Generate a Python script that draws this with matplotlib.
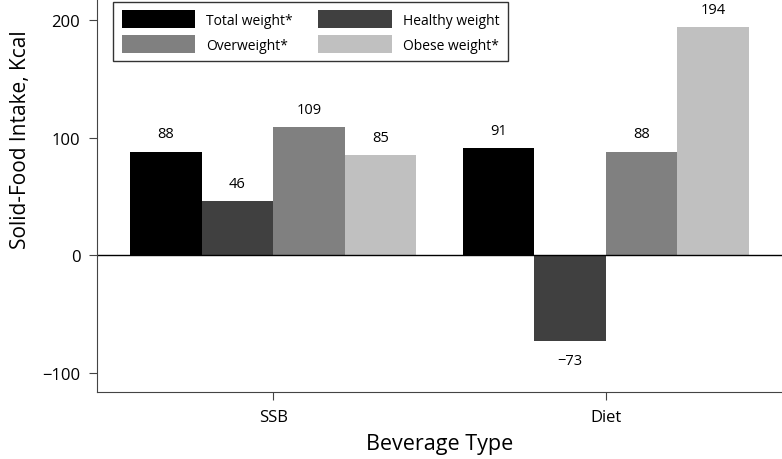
import matplotlib.pyplot as plt
import numpy as np

plt.rcParams['font.family'] = ['Open Sans', 'DejaVu Sans']

beverages = ["SSB", "Diet"]
groups = ["Total weight*", "Healthy weight", "Overweight*", "Obese weight*"]
values = {
    "Total weight*": [88, 91],
    "Healthy weight": [46, -73],
    "Overweight*": [109, 88],
    "Obese weight*": [85, 194],
}
colors = ["#000000", "#404040", "#808080", "#c0c0c0"]

fig = plt.figure(figsize=(7.82, 4.6), dpi=100)
ax = fig.add_axes([0.124, 0.146, 0.876, 0.854])

x = np.arange(len(beverages))
w = 0.215
bars = []
for i, g in enumerate(groups):
    pos = x + (i - 1.5) * w
    b = ax.bar(pos, values[g], width=w, color=colors[i], label=g)
    bars.append(b)
    for px, v in zip(pos, values[g]):
        off = 9 if v >= 0 else -10
        va = 'bottom' if v >= 0 else 'top'
        ax.text(px, v + off, str(v).replace('-', '\u2212'), ha='center',
                va=va, fontsize=10.5)

ax.axhline(0, color='black', lw=1)
ax.set_xlim(-0.53, 1.53)
ax.set_ylim(-116, 218)
ax.set_yticks([-100, 0, 100, 200])
ax.set_yticklabels(['\u2212100', '0', '100', '200'])
ax.set_xticks(x)
ax.set_xticklabels(beverages)
ax.tick_params(labelsize=12, length=5.5, pad=6.5, color='#444444')
ax.spines['top'].set_visible(False)
ax.spines['right'].set_visible(False)
ax.spines['left'].set_color('#444444')
ax.spines['bottom'].set_color('#444444')
ax.set_xlabel("Beverage Type", fontsize=15.5, labelpad=6)
ax.set_ylabel("Solid-Food Intake, Kcal", fontsize=15)
ax.yaxis.set_label_coords(-0.096, 0.645)

# legend filled row by row: Total, Healthy / Overweight, Obese
order = [0, 2, 1, 3]
leg = ax.legend([bars[i] for i in order], [groups[i] for i in order],
                ncol=2, loc='upper left', bbox_to_anchor=(0.024, 0.992),
                borderaxespad=0, fontsize=10, frameon=True, fancybox=False,
                handlelength=5.3, handleheight=1.6, handletextpad=0.8,
                columnspacing=1.8, labelspacing=0.5, borderpad=0.6)
leg.get_frame().set_edgecolor('black')
leg.get_frame().set_linewidth(1)

plt.savefig("out.png", dpi=100)
